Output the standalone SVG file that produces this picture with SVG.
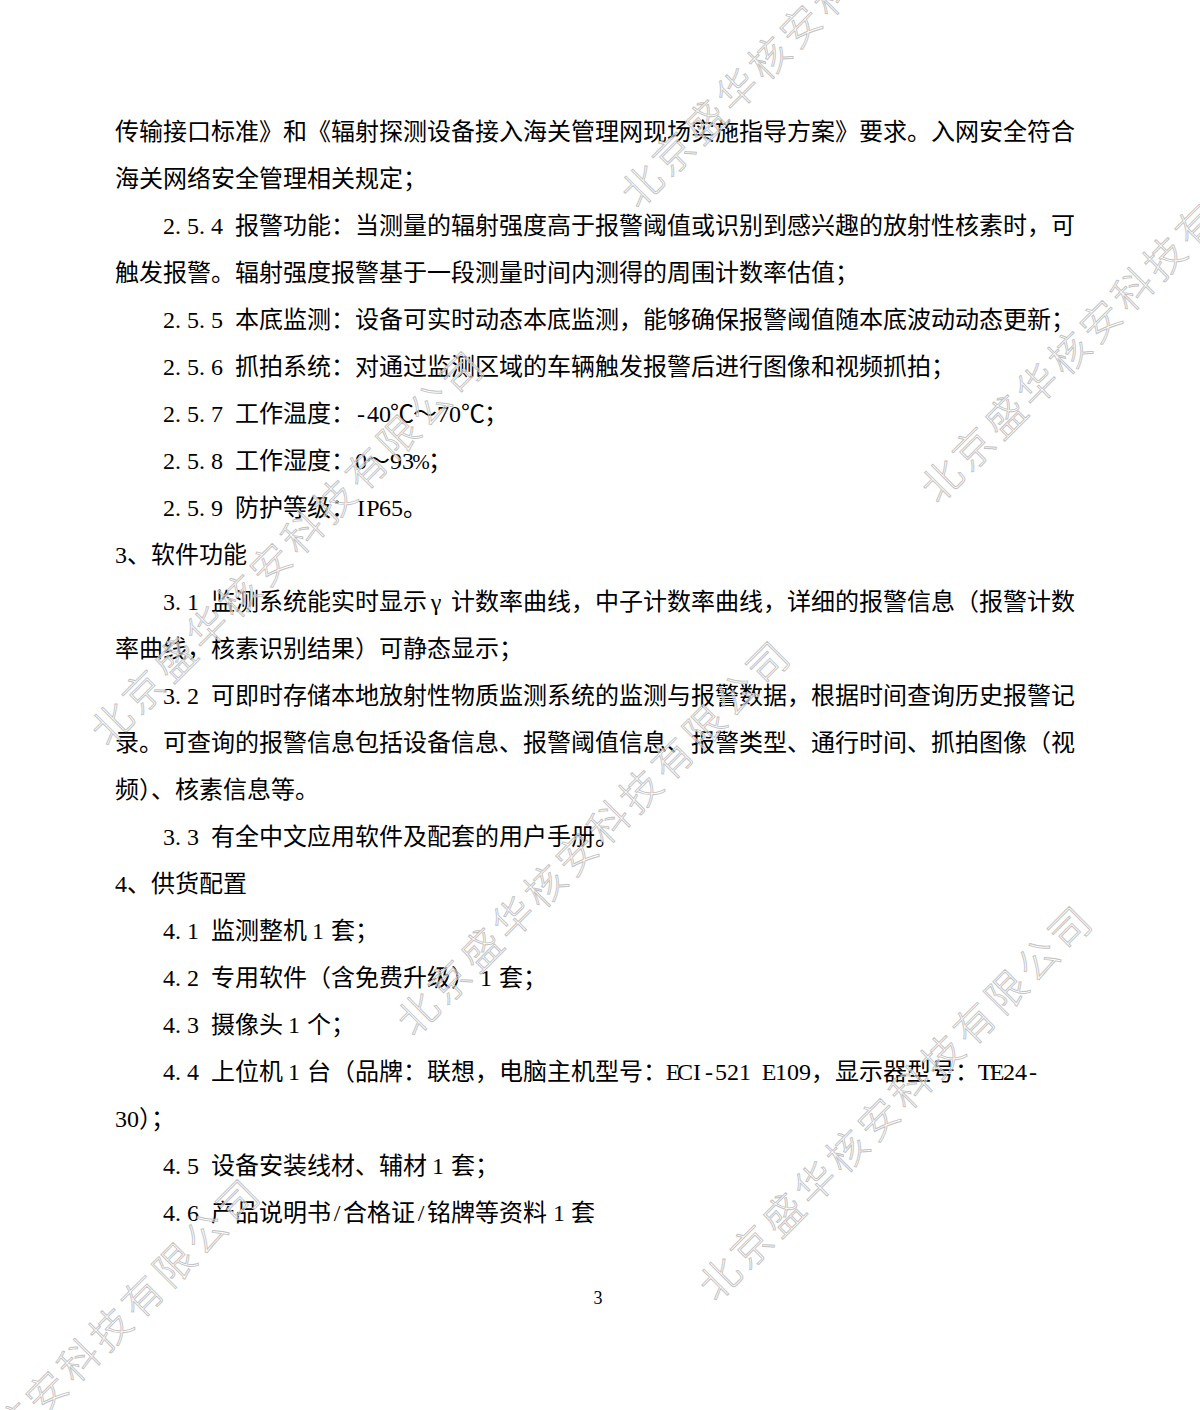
<svg xmlns="http://www.w3.org/2000/svg" width="1200" height="1410" viewBox="0 0 1200 1410">
<style>
.c{font-family:"Noto Sans CJK SC","Noto Sans CJK JP",sans-serif;font-size:24px;fill:#000}
.a{font-family:"Liberation Serif","DejaVu Serif",serif;font-size:24px;fill:#000;text-anchor:middle}
.w{font-family:"Noto Sans CJK SC","Noto Sans CJK JP",sans-serif;font-size:40px;font-weight:300;letter-spacing:5px;fill:#fff;fill-opacity:0.45;stroke:#c2c2c2;stroke-width:0.9}
</style>
<rect x="0" y="0" width="1200" height="1410" fill="#fff"/>
<g id="body">
<text class="c" x="115" y="140">传输接口标准》和《辐射探测设备接入海关管理网现场实施指导方案》要求。入网安全符合</text>
<text class="c" x="115" y="187">海关网络安全管理相关规定；</text>
<text class="a" x="169 178 193 202 217" y="234">2.5.4</text>
<text class="c" x="235" y="234">报警功能：当测量的辐射强度高于报警阈值或识别到感兴趣的放射性核素时，可</text>
<text class="c" x="115" y="281">触发报警。辐射强度报警基于一段测量时间内测得的周围计数率估值；</text>
<text class="a" x="169 178 193 202 217" y="328">2.5.5</text>
<text class="c" x="235" y="328">本底监测：设备可实时动态本底监测，能够确保报警阈值随本底波动动态更新；</text>
<text class="a" x="169 178 193 202 217" y="375">2.5.6</text>
<text class="c" x="235" y="375">抓拍系统：对通过监测区域的车辆触发报警后进行图像和视频抓拍；</text>
<text class="a" x="169 178 193 202 217" y="422">2.5.7</text>
<text class="c" x="235" y="422">工作温度：</text>
<text class="a" x="361 373 385" y="422">-40</text>
<text class="c" x="390" y="422">℃</text>
<text class="c" x="413" y="422">～</text>
<text class="a" x="443 455" y="422">70</text>
<text class="c" x="461" y="422">℃</text>
<text class="c" x="484" y="422">；</text>
<text class="a" x="169 178 193 202 217" y="469">2.5.8</text>
<text class="c" x="235" y="469">工作湿度：</text>
<text class="a" x="361" y="469">0</text>
<text class="c" x="366" y="469">～</text>
<text class="a" x="396 408" y="469">93</text>
<text class="a" x="421" y="469" style="font-size:21px">%</text>
<text class="c" x="428" y="469">；</text>
<text class="a" x="169 178 193 202 217" y="516">2.5.9</text>
<text class="c" x="235" y="516">防护等级：</text>
<text class="a" x="361 373 385 397" y="516">IP65</text>
<text class="c" x="403" y="516">。</text>
<text class="a" x="121" y="563">3</text>
<text class="c" x="127" y="563">、软件功能</text>
<text class="a" x="169 178 193" y="610">3.1</text>
<text class="c" x="211" y="610">监测系统能实时显示</text>
<text class="a" x="436" y="610">γ</text>
<text class="c" x="451" y="610">计数率曲线，中子计数率曲线，详细的报警信息（报警计数</text>
<text class="c" x="115" y="657">率曲线，核素识别结果）可静态显示；</text>
<text class="a" x="169 178 193" y="704">3.2</text>
<text class="c" x="211" y="704">可即时存储本地放射性物质监测系统的监测与报警数据，根据时间查询历史报警记</text>
<text class="c" x="115" y="751">录。可查询的报警信息包括设备信息、报警阈值信息、报警类型、通行时间、抓拍图像（视</text>
<text class="c" x="115" y="798">频）、核素信息等。</text>
<text class="a" x="169 178 193" y="845">3.3</text>
<text class="c" x="211" y="845">有全中文应用软件及配套的用户手册。</text>
<text class="a" x="121" y="892">4</text>
<text class="c" x="127" y="892">、供货配置</text>
<text class="a" x="169 178 193" y="939">4.1</text>
<text class="c" x="211" y="939">监测整机</text>
<text class="a" x="318" y="939">1</text>
<text class="c" x="331" y="939">套；</text>
<text class="a" x="169 178 193" y="986">4.2</text>
<text class="c" x="211" y="986">专用软件（含免费升级）</text>
<text class="a" x="486" y="986">1</text>
<text class="c" x="499" y="986">套；</text>
<text class="a" x="169 178 193" y="1033">4.3</text>
<text class="c" x="211" y="1033">摄像头</text>
<text class="a" x="294" y="1033">1</text>
<text class="c" x="307" y="1033">个；</text>
<text class="a" x="169 178 193" y="1080">4.4</text>
<text class="c" x="211" y="1080">上位机</text>
<text class="a" x="294" y="1080">1</text>
<text class="c" x="307" y="1080">台（品牌：联想，电脑主机型号：</text>
<text class="a" x="673 685 697 709 721 733 745 757 769 781 793 805" y="1080">ECI-521 E109</text>
<text class="c" x="811" y="1080">，显示器型号：</text>
<text class="a" x="985 997 1009 1021 1033" y="1080">TE24-</text>
<text class="a" x="121 133" y="1127">30</text>
<text class="c" x="139" y="1127">）；</text>
<text class="a" x="169 178 193" y="1174">4.5</text>
<text class="c" x="211" y="1174">设备安装线材、辅材</text>
<text class="a" x="438" y="1174">1</text>
<text class="c" x="451" y="1174">套；</text>
<text class="a" x="169 178 193" y="1221">4.6</text>
<text class="c" x="211" y="1221">产品说明书</text>
<text class="a" x="337" y="1221">/</text>
<text class="c" x="343" y="1221">合格证</text>
<text class="a" x="421" y="1221">/</text>
<text class="c" x="427" y="1221">铭牌等资料</text>
<text class="a" x="559" y="1221">1</text>
<text class="c" x="571" y="1221">套</text>
<text class="a" x="598" y="1304" style="font-size:18px">3</text>
</g>
<g id="watermarks">
<text class="w" transform="translate(638,210) rotate(-45)">北京盛华核安科技有限公司</text>
<text class="w" transform="translate(938,505) rotate(-45)">北京盛华核安科技有限公司</text>
<text class="w" transform="translate(108,748) rotate(-45)">北京盛华核安科技有限公司</text>
<text class="w" transform="translate(414,1038) rotate(-45)">北京盛华核安科技有限公司</text>
<text class="w" transform="translate(716,1303) rotate(-45)">北京盛华核安科技有限公司</text>
<text class="w" transform="translate(-116,1576) rotate(-45)">北京盛华核安科技有限公司</text>
</g>
</svg>
